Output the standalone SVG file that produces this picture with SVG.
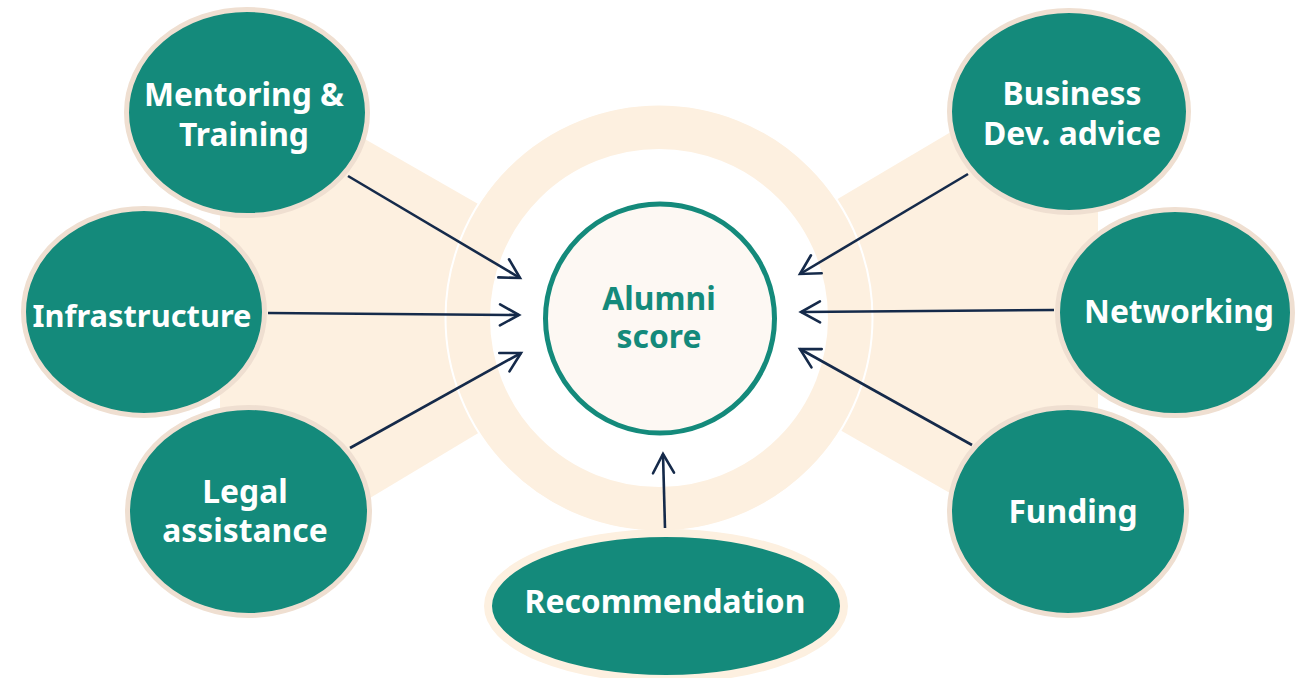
<svg xmlns="http://www.w3.org/2000/svg" width="1307" height="678" viewBox="0 0 1307 678">
<defs>
<style>
.band{fill:#FDF0E0;}
.node{fill:#148A7B;stroke:#EFDFD1;stroke-width:5;}
.rec{fill:#148A7B;stroke:#FDF0E0;stroke-width:8;}
.lbl{font-family:"Noto Sans","Open Sans","DejaVu Sans",sans-serif;font-weight:700;font-size:31.8px;fill:#FFFFFF;text-anchor:middle;}
.clbl{font-family:"Noto Sans","Open Sans","DejaVu Sans",sans-serif;font-weight:700;font-size:31.8px;fill:#148A7B;text-anchor:middle;}
.conn{stroke:#152A4A;stroke-width:2.6;fill:none;marker-end:url(#arr);}
</style>
<marker id="arr" markerUnits="userSpaceOnUse" markerWidth="30" markerHeight="30" refX="22" refY="12" orient="auto" viewBox="0 0 30 24">
<path d="M3,1.5 L22,12 L3,22.5" fill="none" stroke="#152A4A" stroke-width="2.6" stroke-linecap="round" stroke-linejoin="miter"/>
</marker>
</defs>
<rect width="1307" height="678" fill="#FFFFFF"/>
<g id="background">
<polygon class="band" points="220,56 560,251 560,384 220,588"/>
<polygon class="band" points="1098,45 760,245 760,384 1098,578"/>
<circle cx="659" cy="318" r="191" fill="#FFFFFF" stroke="#FDF0E0" stroke-width="44"/>
<circle cx="659" cy="318" r="213.5" fill="none" stroke="#FFFFFF" stroke-width="2"/>
</g>
<g id="center">
<circle cx="660" cy="318.5" r="114.5" fill="#FDF8F3" stroke="#148A7B" stroke-width="5"/>
<text class="clbl" x="659" y="310">Alumni</text>
<text class="clbl" x="659" y="348">score</text>
</g>
<g id="connectors">
<line class="conn" x1="348" y1="176" x2="520" y2="278"/>
<line class="conn" x1="268" y1="313" x2="519" y2="315"/>
<line class="conn" x1="350" y1="448" x2="521" y2="353"/>
<line class="conn" x1="968" y1="174" x2="800" y2="274"/>
<line class="conn" x1="1054" y1="310" x2="801" y2="312"/>
<line class="conn" x1="972" y1="445" x2="800" y2="349"/>
<line class="conn" x1="665" y1="528" x2="663" y2="454"/>
</g>
<g id="mentoring">
<ellipse class="node" cx="247" cy="112.5" rx="120.5" ry="103"/>
<text class="lbl" x="244" y="106">Mentoring &amp;</text>
<text class="lbl" x="244" y="146">Training</text>
</g>
<g id="infrastructure">
<ellipse class="node" cx="144" cy="312" rx="120.5" ry="103.5"/>
<text class="lbl" x="142" y="327" style="font-size:30.8px">Infrastructure</text>
</g>
<g id="legal">
<ellipse class="node" cx="248.5" cy="511.5" rx="121" ry="104"/>
<text class="lbl" x="245" y="503">Legal</text>
<text class="lbl" x="245" y="542">assistance</text>
</g>
<g id="business">
<ellipse class="node" cx="1069" cy="111.5" rx="119.5" ry="101"/>
<text class="lbl" x="1072" y="105">Business</text>
<text class="lbl" x="1072" y="145">Dev. advice</text>
</g>
<g id="networking">
<ellipse class="node" cx="1175" cy="312.5" rx="117.5" ry="103"/>
<text class="lbl" x="1179" y="323">Networking</text>
</g>
<g id="funding">
<ellipse class="node" cx="1068" cy="511.5" rx="118.5" ry="104"/>
<text class="lbl" x="1073" y="523">Funding</text>
</g>
<g id="recommendation">
<ellipse class="rec" cx="666" cy="606" rx="178" ry="73"/>
<text class="lbl" x="665" y="613">Recommendation</text>
</g>
</svg>
